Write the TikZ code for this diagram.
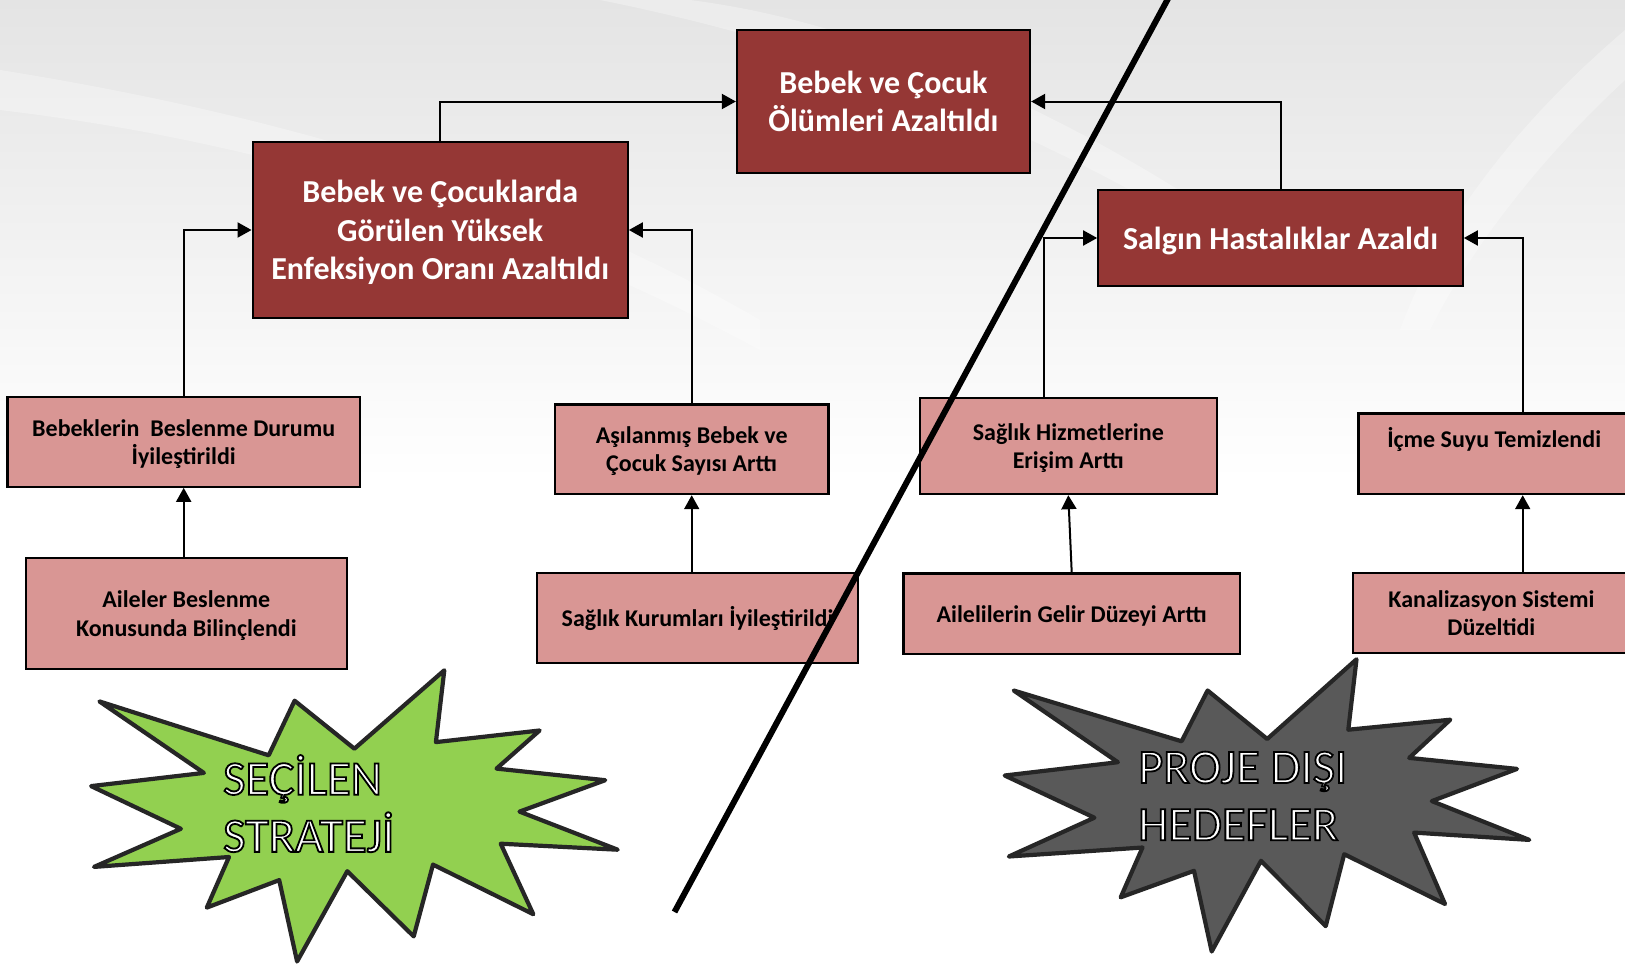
\documentclass[tikz,border=0pt]{standalone}
\usepackage{fontspec}
\setmainfont{Carlito}
\usetikzlibrary{arrows.meta,calc}
\definecolor{boxred}{RGB}{149,55,53}
\definecolor{boxpink}{RGB}{217,150,148}
\definecolor{stargreen}{RGB}{146,208,80}
\definecolor{stargray}{RGB}{89,89,89}
\definecolor{starline}{RGB}{38,38,38}
\definecolor{bggray}{RGB}{228,228,228}
\newcommand{\hstrut}{\rule{0pt}{0.95em}}
\newcommand{\dstrut}{\rule[-0.25em]{0pt}{0.25em}}
\newcommand{\outlined}[1]{\special{pdf:literal direct 2 Tr 1.8 w 0 G}#1\special{pdf:literal direct 0 Tr}}
\tikzset{
  redbox/.style={draw=black, line width=2.3pt, fill=boxred, text=white, inner sep=0pt,
    align=center, font=\bfseries\fontsize{32}{38.4}\selectfont},
  pinkbox/.style={draw=black, line width=2.3pt, fill=boxpink, text=black, inner sep=0pt,
    align=center, font=\bfseries\fontsize{24}{28.3}\selectfont},
  conn/.style={draw=black, line width=2pt, -{Triangle[length=14pt,width=15pt]}},
  burst/.style={draw=starline, line width=4.2pt, line join=round},
  bursttext/.style={text=white, inner sep=0pt, align=left, anchor=north west,
    font=\fontsize{48.5}{57.2}\selectfont},
  divider/.style={draw=black, line width=6pt}
}
\begin{document}
\begin{tikzpicture}[x=1pt,y=-1pt]
\useasboundingbox (0,0) rectangle (1625,966);
% background
\fill[white] (0,0) rectangle (1625,966);
\shade[top color=bggray, bottom color=white] (0,0) rectangle (1625,480);
\fill[white, opacity=0.3] (0,70) .. controls (250,110) and (520,180) .. (760,320) -- (760,350) .. controls (500,210) and (250,140) .. (0,110) -- cycle;
\fill[white, opacity=0.3] (1625,30) .. controls (1520,120) and (1440,220) .. (1400,330) -- (1430,330) .. controls (1480,230) and (1560,140) .. (1625,80) -- cycle;
\fill[white, opacity=0.3] (600,0) .. controls (800,40) and (1000,110) .. (1200,230) -- (1240,230) .. controls (1050,100) and (850,20) .. (690,0) -- cycle;

% boxes
\node[redbox, minimum width=293pt, minimum height=143pt] (top) at (883.5,101.5)
  {\hstrut Bebek ve Çocuk\\Ölümleri Azaltıldı\dstrut};
\node[redbox, minimum width=375pt, minimum height=176.6pt] (big) at (440.2,230)
  {\hstrut Bebek ve Çocuklarda\\Görülen Yüksek\\Enfeksiyon Oranı Azaltıldı\dstrut};
\node[redbox, minimum width=364.4pt, minimum height=96pt] (salgin) at (1280.5,238)
  {\hstrut Salgın Hastalıklar Azaldı\dstrut};

\node[pinkbox, minimum width=352.7pt, minimum height=89.4pt] (beb) at (183.7,442)
  {\hstrut Bebeklerin\ \ Beslenme Durumu\\İyileştirildi\dstrut};
\node[pinkbox, minimum width=320.7pt, minimum height=111.6pt] (aile) at (186.3,613.5)
  {\hstrut Aileler Beslenme\\Konusunda Bilinçlendi\dstrut};
\node[pinkbox, minimum width=273.3pt, minimum height=89.7pt] (asi) at (691.7,449.2)
  {\hstrut Aşılanmış Bebek ve\\Çocuk Sayısı Arttı\dstrut};
\node[pinkbox, minimum width=320.4pt, minimum height=89.4pt] (kurum) at (697.5,618)
  {\hstrut Sağlık Kurumları İyileştirildi\dstrut};
\node[pinkbox, minimum width=296.7pt, minimum height=96.3pt] (hizmet) at (1068.3,445.9)
  {\hstrut Sağlık Hizmetlerine\\Erişim Arttı\dstrut};
\node[pinkbox, minimum width=336.7pt, minimum height=80.7pt] (gelir) at (1071.7,613.7)
  {\hstrut Ailelilerin Gelir Düzeyi Arttı\dstrut};
\node[pinkbox, minimum width=271.7pt, minimum height=80.7pt] (icme) at (1494.2,453.7)
  {\hstrut İçme Suyu Temizlendi\\\dstrut};
\node[pinkbox, minimum width=277.3pt, minimum height=80pt] (kanal) at (1491.4,613.3)
  {\hstrut Kanalizasyon Sistemi\\Düzeltidi\dstrut};

% connectors
\draw[conn] (big.north) |- (top.west);
\draw[conn] (salgin.north) |- (top.east);
\draw[conn] (beb.north) |- (big.west);
\draw[conn] (asi.north) |- (big.east);
\draw[conn] ([xshift=-24pt]hizmet.north) |- (salgin.west);
\draw[conn] ([xshift=28.5pt]icme.north) |- (salgin.east);
\draw[conn] (aile.north -| beb.south) -- (beb.south);
\draw[conn] (kurum.north -| asi.south) -- (asi.south);
\draw[conn] (gelir.north) -- (hizmet.south);
\draw[conn] ([xshift=28.5pt]icme.south |- kanal.north) -- ([xshift=28.5pt]icme.south);

% starbursts
\filldraw[burst, fill=stargreen] (99.4,701.4) -- (268.7,755.3) -- (294.6,700.7) -- (354.4,748.7)
  -- (444.3,670.3) -- (435.9,742.1) -- (539.6,730.5) -- (496.5,768.6) -- (605.2,780.2)
  -- (519.5,811.6) -- (617.7,849.7) -- (500.7,843.7) -- (533.3,914.2) -- (433,864.6)
  -- (413.7,936.4) -- (347.3,871.2) -- (297.1,961.5) -- (279.2,880.1) -- (206.8,907.6)
  -- (229,857) -- (94,866.9) -- (180.9,828.8) -- (91.1,786.1) -- (203.9,772.9) -- cycle;
\filldraw[burst, fill=stargray] (1013.7,690.5) -- (1181.6,741.3) -- (1207.6,690.5) -- (1267.2,739)
  -- (1356.5,659.3) -- (1348.3,729.7) -- (1450.3,719.7) -- (1409.2,757.9) -- (1517,768.9)
  -- (1431.8,801.1) -- (1529.3,839.9) -- (1414.1,832.6) -- (1445,904) -- (1344.2,854.2)
  -- (1325.7,926.2) -- (1261,860.8) -- (1211.7,951.5) -- (1194,870.8) -- (1120.7,897.3)
  -- (1142.5,847.5) -- (1008.8,856.5) -- (1094.4,817.7) -- (1004.7,775.5) -- (1117.9,762.2) -- cycle;

\node[bursttext] (secilen) at (223,748.4)
  {\hstrut\outlined{SEÇİLEN}\\\outlined{STRATEJİ}};
\node[bursttext] (dis) at (1138,736.8)
  {\hstrut\outlined{PROJE DIŞI}\\\outlined{HEDEFLER}};

% divider
\draw[divider] (1170,-5) -- (674.5,912);
\end{tikzpicture}
\end{document}
